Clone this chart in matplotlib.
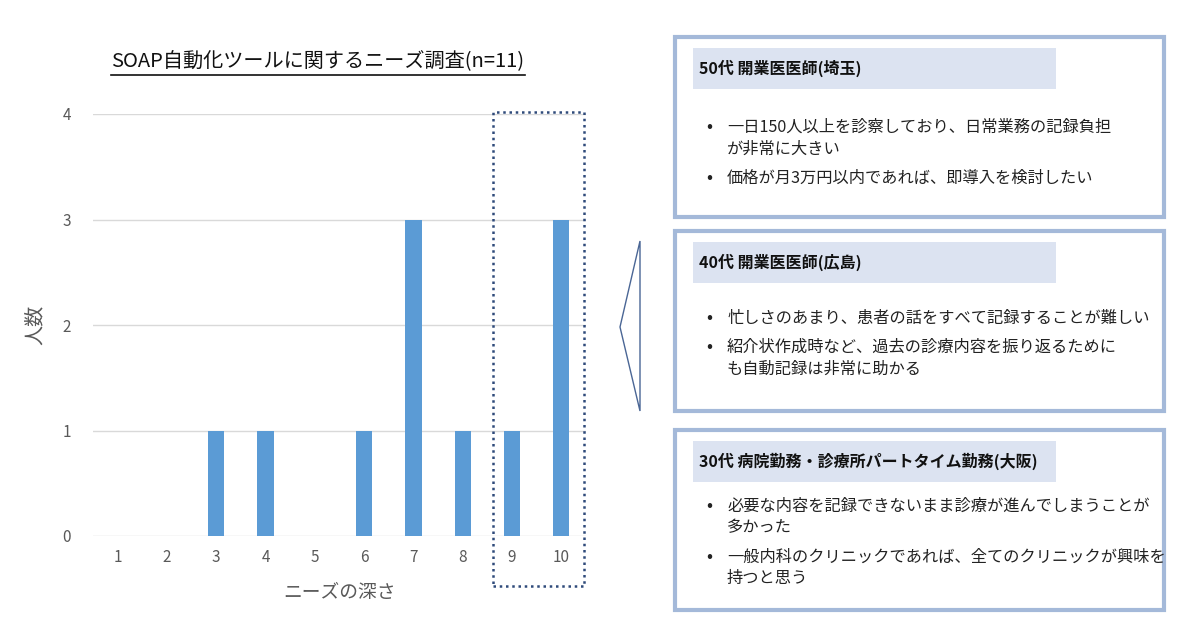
import matplotlib.pyplot as plt
from matplotlib.patches import Rectangle, Polygon
from matplotlib.lines import Line2D

plt.rcParams['font.family'] = ['Noto Sans CJK JP', 'DejaVu Sans']

# データ
depth = [1, 2, 3, 4, 5, 6, 7, 8, 9, 10]
counts = [0, 0, 1, 1, 0, 1, 3, 1, 1, 3]
title = 'SOAP自動化ツールに関するニーズ調査(n=11)'

headers = ['50代 開業医医師(埼玉)',
           '40代 開業医医師(広島)',
           '30代 病院勤務・診療所パートタイム勤務(大阪)']
comments = [
    [['一日150人以上を診察しており、日常業務の記録負担', 'が非常に大きい'],
     ['価格が月3万円以内であれば、即導入を検討したい']],
    [['忙しさのあまり、患者の話をすべて記録することが難しい'],
     ['紹介状作成時など、過去の診療内容を振り返るために', 'も自動記録は非常に助かる']],
    [['必要な内容を記録できないまま診療が進んでしまうことが', '多かった'],
     ['一般内科のクリニックであれば、全てのクリニックが興味を', '持つと思う']],
]

W, H = 1200, 642
fig = plt.figure(figsize=(W / 100, H / 100), dpi=100)

# 棒グラフ
ax = fig.add_axes([93 / W, 106 / H, 493 / W, 422 / H])
ax.bar(depth, counts, width=0.33, color='#5B9BD5', zorder=3)
ax.set_xlim(0.5, 10.5)
ax.set_ylim(0, 4)
ax.set_yticks([0, 1, 2, 3, 4])
ax.set_xticks(depth)
ax.grid(axis='y', color='#D9D9D9', linewidth=1, zorder=0)
for s in ax.spines.values():
    s.set_visible(False)
ax.tick_params(length=0, labelsize=11, colors='#595959')
ax.tick_params(axis='y', pad=16)
ax.tick_params(axis='x', pad=9)
ax.set_xlabel('ニーズの深さ', fontsize=13.5, color='#595959', labelpad=12)
ax.set_ylabel('人数', fontsize=14.5, color='#595959', labelpad=12)

# 9,10 を囲む点線
ax.add_patch(Rectangle((8.61, -0.47), 1.85, 4.49, fill=False, edgecolor='#2F4A7A',
                       linestyle=(0, (1, 1.5)), linewidth=1.8, clip_on=False, zorder=4))

# 右側のパネル (ピクセル座標)
ov = fig.add_axes([0, 0, 1, 1], zorder=5)
ov.set_xlim(0, W)
ov.set_ylim(H, 0)
ov.axis('off')
ov.patch.set_alpha(0)

t = ov.text(318, 62, title, fontsize=14.5, ha='center', va='center', color='#111111')

box_tops = [37, 231, 430]
first_line = [90, 87, 76]
box_h = 180
for i in range(3):
    y0 = box_tops[i]
    ov.add_patch(Rectangle((675, y0), 489, box_h, fill=False,
                           edgecolor='#A4B9D9', linewidth=3))
    ov.add_patch(Rectangle((693, y0 + 11), 363, 41, facecolor='#DCE3F1',
                           edgecolor='none'))
    ov.text(699, y0 + 31, headers[i], fontsize=11.5, fontweight='bold',
            ha='left', va='center', color='#111111')
    y = y0 + first_line[i]
    for item in comments[i]:
        ov.text(706, y, '•', fontsize=13, ha='left', va='center', color='#222222')
        for k, line in enumerate(item):
            ov.text(727, y, line, fontsize=11.7, ha='left', va='center', color='#222222')
            if k < len(item) - 1:
                y += 22
        y += 29

ov.add_patch(Polygon([(640, 241), (620, 327), (640, 411)], closed=True,
                     fill=False, edgecolor='#4A6695', linewidth=1))

# タイトルの下線
fig.canvas.draw()
bb = t.get_window_extent()
ov_y = H - bb.y0 + 2
ov.add_line(Line2D([bb.x0, bb.x1], [ov_y, ov_y], color='#111111', linewidth=1.2))

fig.savefig('out.png', dpi=100)
